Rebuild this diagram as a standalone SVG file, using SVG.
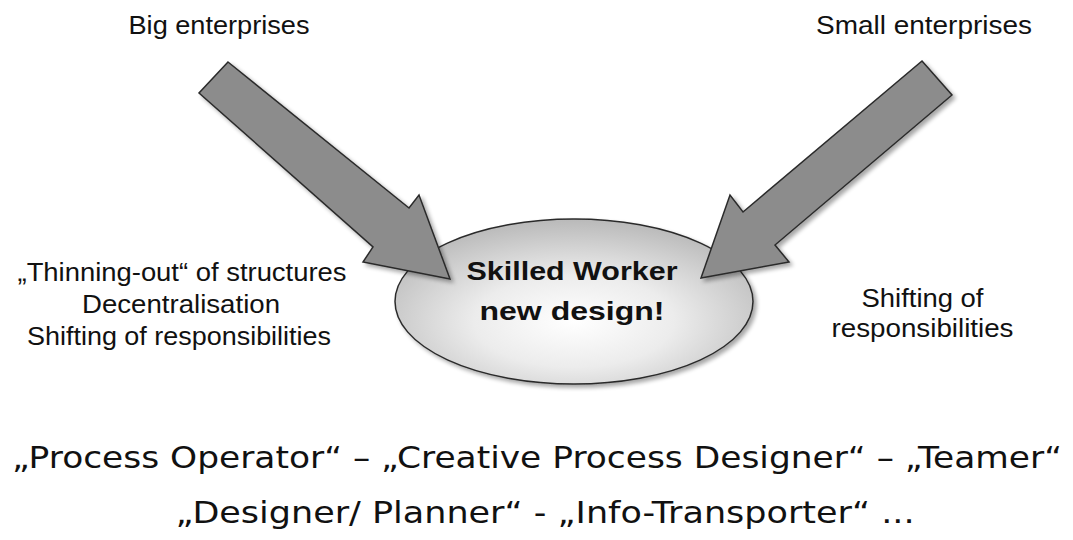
<svg xmlns="http://www.w3.org/2000/svg" width="1073" height="540" viewBox="0 0 1073 540">
<defs>
<radialGradient id="ellFill" cx="0.5" cy="0.62" r="0.62">
<stop offset="0" stop-color="#ffffff"/>
<stop offset="0.45" stop-color="#ececec"/>
<stop offset="1" stop-color="#b9b9b9"/>
</radialGradient>
<filter id="shadow" x="-10%" y="-10%" width="130%" height="130%">
<feGaussianBlur in="SourceAlpha" stdDeviation="2" result="bl"/>
<feOffset in="bl" dx="3" dy="3" result="off"/>
<feComponentTransfer in="off" result="sh"><feFuncA type="linear" slope="0.35"/></feComponentTransfer>
<feMerge><feMergeNode in="sh"/><feMergeNode in="SourceGraphic"/></feMerge>
</filter>
<style>
.lbl{font-family:"Liberation Sans",Arial,sans-serif;font-size:25px;fill:#111;text-anchor:middle}
.bold{font-weight:bold;font-size:26px}
.comic{font-family:"DejaVu Sans",sans-serif;font-size:31px;fill:#111;text-anchor:middle}
.arrow{fill:#8c8c8c;stroke:#2b2b2b;stroke-width:1.5;stroke-linejoin:miter;filter:url(#shadow)}
.ell{fill:url(#ellFill);stroke:#2b2b2b;stroke-width:1.5;filter:url(#shadow)}
</style>
</defs>
<rect width="1073" height="540" fill="#ffffff"/>

<g id="label-big">
<text class="lbl" x="219" y="34" textLength="181" lengthAdjust="spacingAndGlyphs">Big enterprises</text>
</g>
<g id="label-small">
<text class="lbl" x="924" y="34" textLength="216" lengthAdjust="spacingAndGlyphs">Small enterprises</text>
</g>

<g id="label-left">
<text class="lbl" x="182" y="281" textLength="329" lengthAdjust="spacingAndGlyphs">„Thinning-out“ of structures</text>
<text class="lbl" x="181" y="313" textLength="198" lengthAdjust="spacingAndGlyphs">Decentralisation</text>
<text class="lbl" x="179" y="345" textLength="304" lengthAdjust="spacingAndGlyphs">Shifting of responsibilities</text>
</g>

<g id="label-right">
<text class="lbl" x="922.5" y="307" textLength="122" lengthAdjust="spacingAndGlyphs">Shifting of</text>
<text class="lbl" x="922.5" y="337" textLength="182" lengthAdjust="spacingAndGlyphs">responsibilities</text>
</g>

<g id="node-skilled-worker">
<ellipse class="ell" cx="574" cy="301.5" rx="179" ry="82.5"/>
<text class="lbl bold" x="572" y="280" textLength="211" lengthAdjust="spacingAndGlyphs">Skilled Worker</text>
<text class="lbl bold" x="572" y="320" textLength="185" lengthAdjust="spacingAndGlyphs">new design!</text>
</g>

<g id="connectors">
<polygon id="arrow-big" class="arrow" points="228,62 409,208 419,195 450,279 363,262 373,247 199,93"/>
<polygon id="arrow-small" class="arrow" points="922,61 952,95 775,245 789,262 701,278 730,195 743,212"/>
</g>

<g id="label-roles">
<text class="comic" x="537" y="468" textLength="1050" lengthAdjust="spacingAndGlyphs">„Process Operator“ – „Creative Process Designer“ – „Teamer“</text>
<text class="comic" x="545" y="523" textLength="739" lengthAdjust="spacingAndGlyphs">„Designer/ Planner“ - „Info-Transporter“ ...</text>
</g>
</svg>
